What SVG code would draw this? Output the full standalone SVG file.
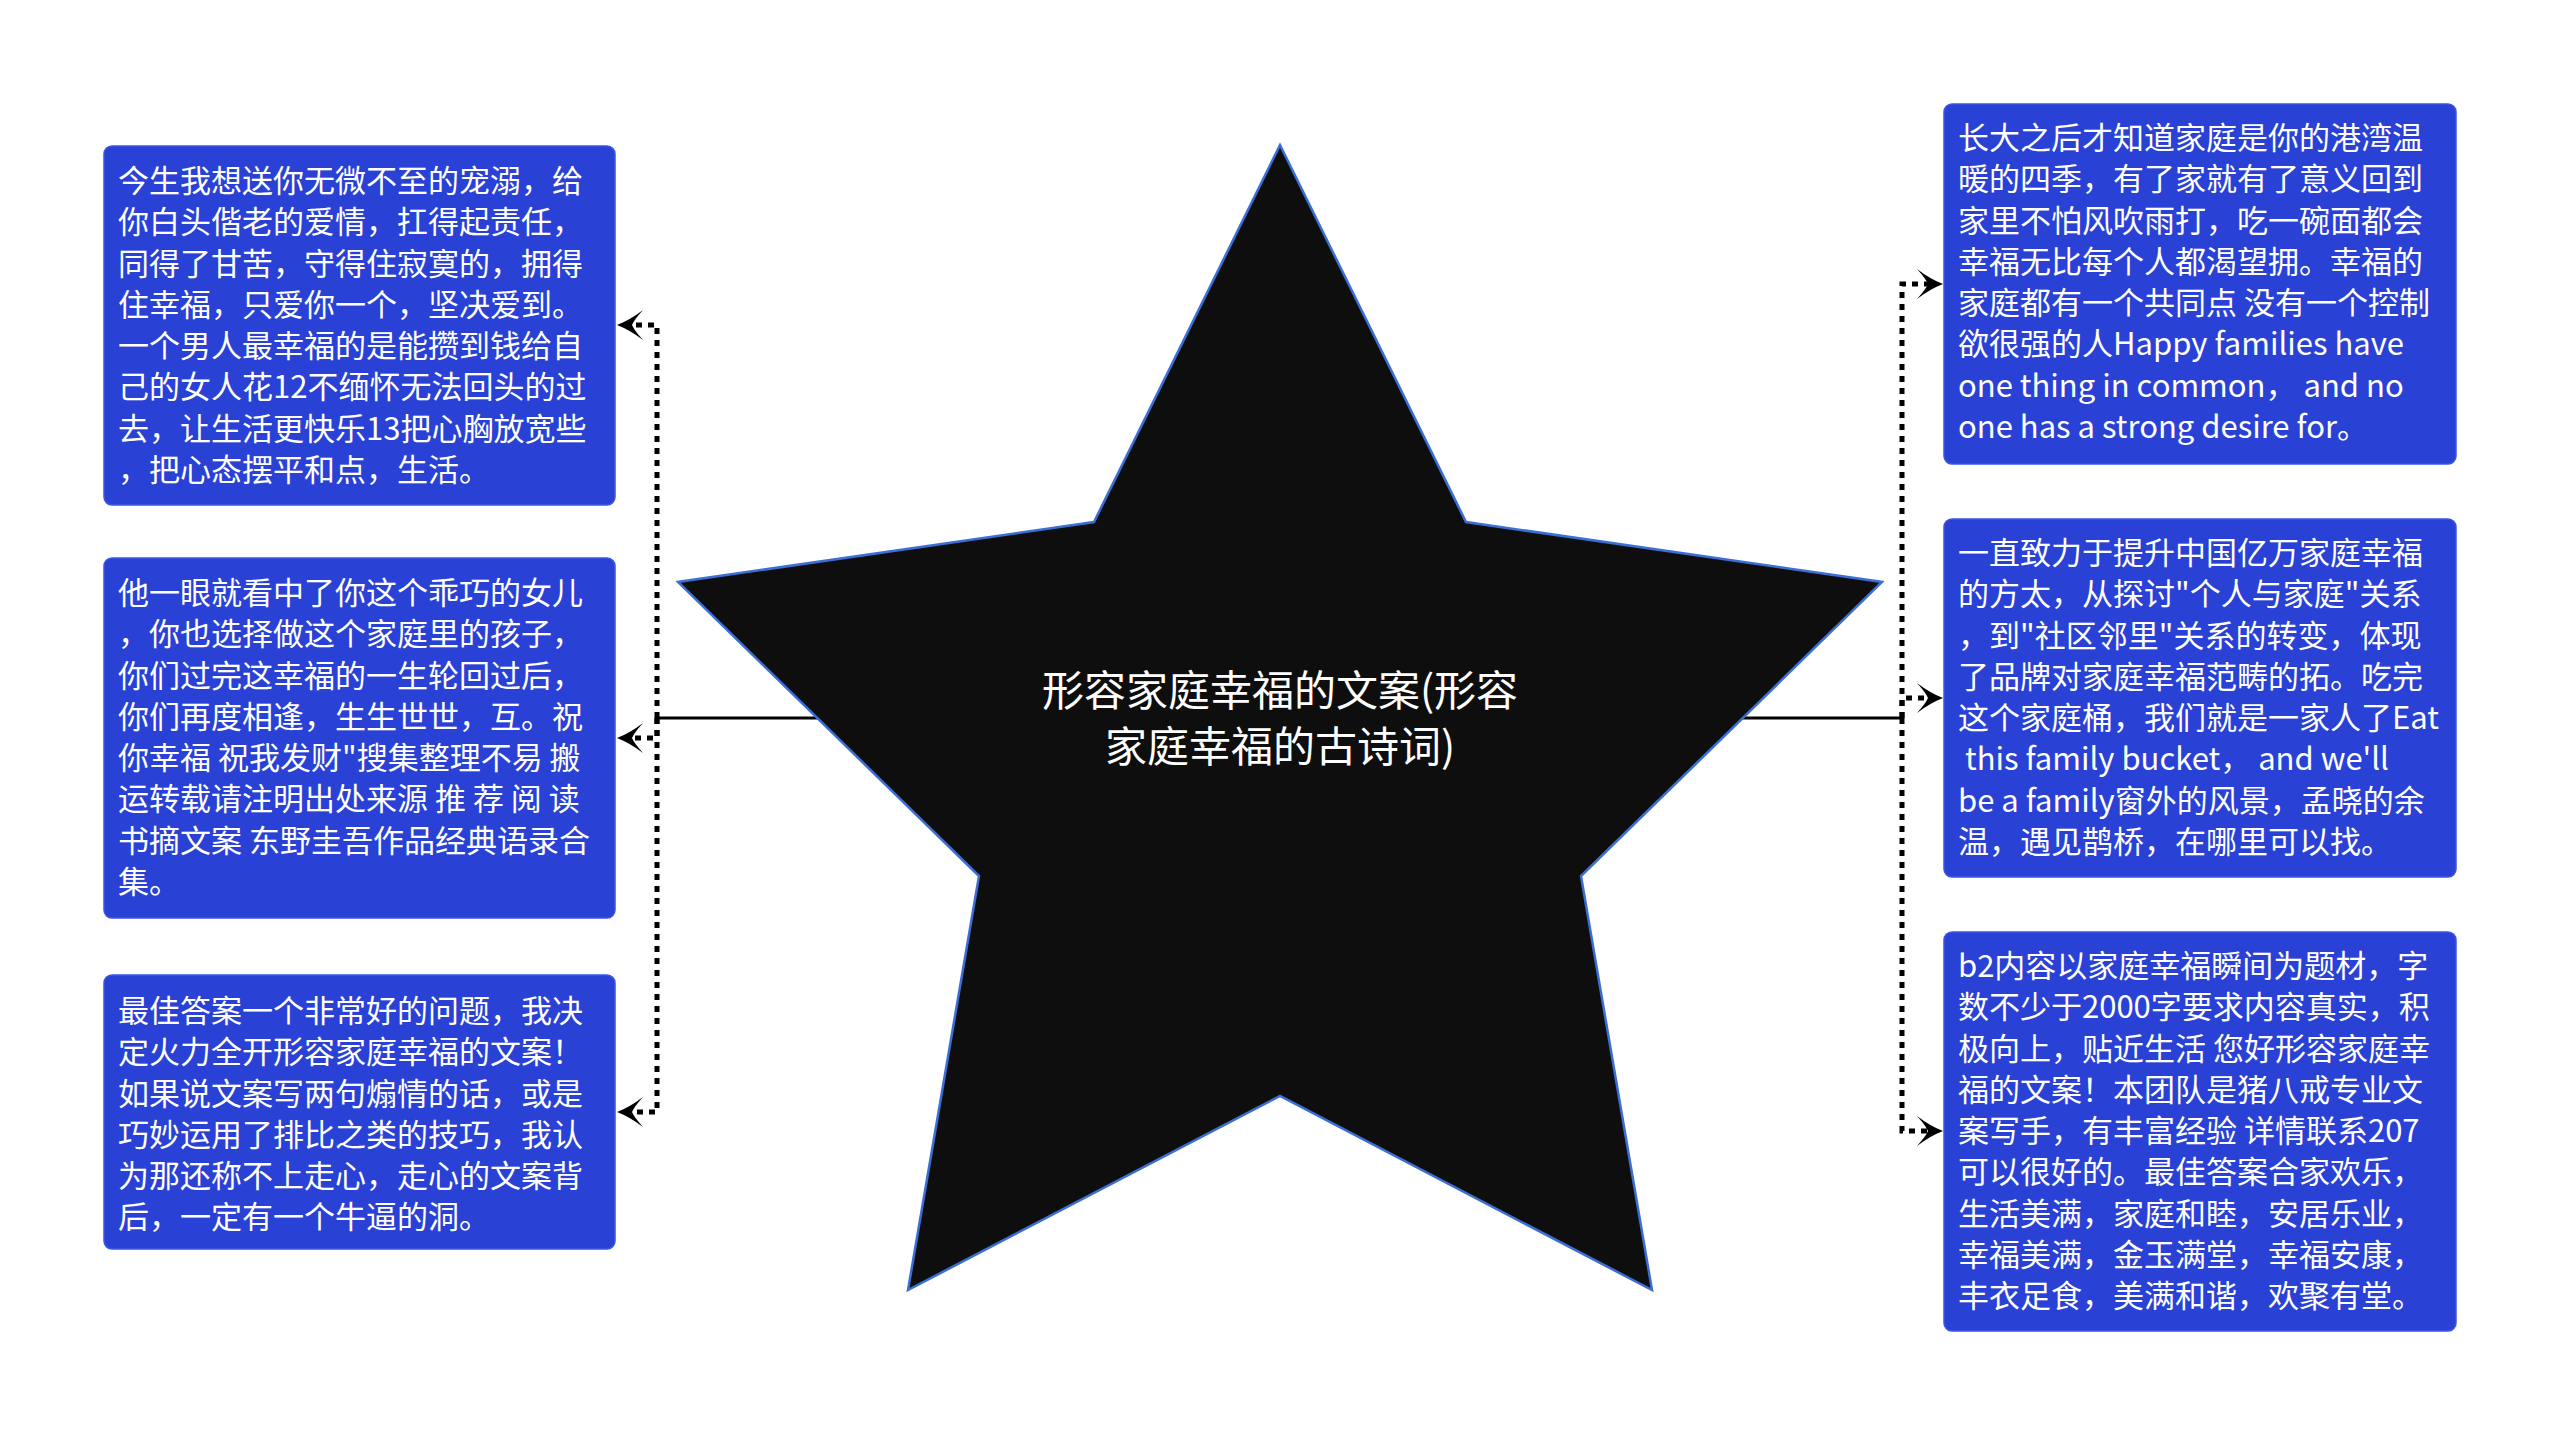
<svg xmlns="http://www.w3.org/2000/svg" width="2560" height="1437" viewBox="0 0 2560 1437">
<style>
.box{fill:#2a41d6;stroke:#3b55e6;stroke-width:1.5}
.bt{font-family:"Noto Sans CJK SC","Noto Sans",sans-serif;font-size:31px;fill:#ffffff}
.ct{font-family:"Noto Sans CJK SC","Noto Sans",sans-serif;font-size:42px;fill:#ffffff}
.dash{fill:none;stroke:#000;stroke-width:5;stroke-dasharray:6 6}
.solid{fill:none;stroke:#000;stroke-width:3}
</style>
<defs>
<marker id="arr" viewBox="-28 -17 30 34" markerWidth="30" markerHeight="34" refX="-15" refY="0" orient="auto" markerUnits="userSpaceOnUse">
<path d="M0,0 Q-13,-5 -26,-15 Q-17,-5 -15,0 Q-17,5 -26,15 Q-13,5 0,0Z" fill="#000"/>
</marker>
</defs>
<rect width="2560" height="1437" fill="#ffffff"/>
<g id="connectors">
<path class="solid" d="M1280,718 H657"/>
<path class="solid" d="M1280,718 H1902"/>
<path class="dash" d="M657,718 V325 H632" marker-end="url(#arr)"/>
<path class="dash" d="M657,718 V738 H632" marker-end="url(#arr)"/>
<path class="dash" d="M657,718 V1112 H632" marker-end="url(#arr)"/>
<path class="dash" d="M1902,718 V284 H1928" marker-end="url(#arr)"/>
<path class="dash" d="M1902,718 V698 H1928" marker-end="url(#arr)"/>
<path class="dash" d="M1902,718 V1131 H1928" marker-end="url(#arr)"/>
</g>
<g id="center">
<polygon points="1280,145 1466,522 1882,582 1581,876 1652,1290 1280,1096 908,1290 979,876 678,582 1094,522" fill="#0e0e0e" stroke="#3b6fd6" stroke-width="2.5" stroke-linejoin="miter"/>
<text class="ct" x="1280" y="706" text-anchor="middle">形容家庭幸福的文案(形容</text>
<text class="ct" x="1280" y="762" text-anchor="middle">家庭幸福的古诗词)</text>
</g>
<g id="node-l1">
<rect class="box" x="104" y="146" width="511" height="359" rx="8"/>
<text class="bt" xml:space="preserve"><tspan x="118" y="192">今生我想送你无微不至的宠溺，给</tspan><tspan x="118" y="233.25">你白头偕老的爱情，扛得起责任，</tspan><tspan x="118" y="274.5">同得了甘苦，守得住寂寞的，拥得</tspan><tspan x="118" y="315.75">住幸福，只爱你一个，坚决爱到。</tspan><tspan x="118" y="357">一个男人最幸福的是能攒到钱给自</tspan><tspan x="118" y="398.25">己的女人花12不缅怀无法回头的过</tspan><tspan x="118" y="439.5">去，让生活更快乐13把心胸放宽些</tspan><tspan x="118" y="480.75">，把心态摆平和点，生活。</tspan></text>
</g>
<g id="node-l2">
<rect class="box" x="104" y="558" width="511" height="360" rx="8"/>
<text class="bt" xml:space="preserve"><tspan x="118" y="604">他一眼就看中了你这个乖巧的女儿</tspan><tspan x="118" y="645.25">，你也选择做这个家庭里的孩子，</tspan><tspan x="118" y="686.5">你们过完这幸福的一生轮回过后，</tspan><tspan x="118" y="727.75">你们再度相逢，生生世世，互。祝</tspan><tspan x="118" y="769">你幸福 祝我发财"搜集整理不易 搬</tspan><tspan x="118" y="810.25">运转载请注明出处来源 推 荐 阅 读</tspan><tspan x="118" y="851.5">书摘文案 东野圭吾作品经典语录合</tspan><tspan x="118" y="892.75">集。</tspan></text>
</g>
<g id="node-l3">
<rect class="box" x="104" y="975" width="511" height="274" rx="8"/>
<text class="bt" xml:space="preserve"><tspan x="118" y="1022">最佳答案一个非常好的问题，我决</tspan><tspan x="118" y="1063.25">定火力全开形容家庭幸福的文案！</tspan><tspan x="118" y="1104.5">如果说文案写两句煽情的话，或是</tspan><tspan x="118" y="1145.75">巧妙运用了排比之类的技巧，我认</tspan><tspan x="118" y="1187">为那还称不上走心，走心的文案背</tspan><tspan x="118" y="1228.25">后，一定有一个牛逼的洞。</tspan></text>
</g>
<g id="node-r1">
<rect class="box" x="1944" y="104" width="512" height="360" rx="8"/>
<text class="bt" xml:space="preserve"><tspan x="1958" y="149">长大之后才知道家庭是你的港湾温</tspan><tspan x="1958" y="190.25">暖的四季，有了家就有了意义回到</tspan><tspan x="1958" y="231.5">家里不怕风吹雨打，吃一碗面都会</tspan><tspan x="1958" y="272.75">幸福无比每个人都渴望拥。幸福的</tspan><tspan x="1958" y="314">家庭都有一个共同点 没有一个控制</tspan><tspan x="1958" y="355.25">欲很强的人Happy families have</tspan><tspan x="1958" y="396.5">one thing in common， and no</tspan><tspan x="1958" y="437.75">one has a strong desire for。</tspan></text>
</g>
<g id="node-r2">
<rect class="box" x="1944" y="519" width="512" height="358" rx="8"/>
<text class="bt" xml:space="preserve"><tspan x="1958" y="564">一直致力于提升中国亿万家庭幸福</tspan><tspan x="1958" y="605.25">的方太，从探讨"个人与家庭"关系</tspan><tspan x="1958" y="646.5">，到"社区邻里"关系的转变，体现</tspan><tspan x="1958" y="687.75">了品牌对家庭幸福范畴的拓。吃完</tspan><tspan x="1958" y="729">这个家庭桶，我们就是一家人了Eat</tspan><tspan x="1958" y="770.25"> this family bucket， and we'll</tspan><tspan x="1958" y="811.5">be a family窗外的风景，孟晓的余</tspan><tspan x="1958" y="852.75">温，遇见鹊桥，在哪里可以找。</tspan></text>
</g>
<g id="node-r3">
<rect class="box" x="1944" y="932" width="512" height="399" rx="8"/>
<text class="bt" xml:space="preserve"><tspan x="1958" y="977">b2内容以家庭幸福瞬间为题材，字</tspan><tspan x="1958" y="1018.25">数不少于2000字要求内容真实，积</tspan><tspan x="1958" y="1059.5">极向上，贴近生活 您好形容家庭幸</tspan><tspan x="1958" y="1100.75">福的文案！本团队是猪八戒专业文</tspan><tspan x="1958" y="1142">案写手，有丰富经验 详情联系207</tspan><tspan x="1958" y="1183.25">可以很好的。最佳答案合家欢乐，</tspan><tspan x="1958" y="1224.5">生活美满，家庭和睦，安居乐业，</tspan><tspan x="1958" y="1265.75">幸福美满，金玉满堂，幸福安康，</tspan><tspan x="1958" y="1307">丰衣足食，美满和谐，欢聚有堂。</tspan></text>
</g>
</svg>
